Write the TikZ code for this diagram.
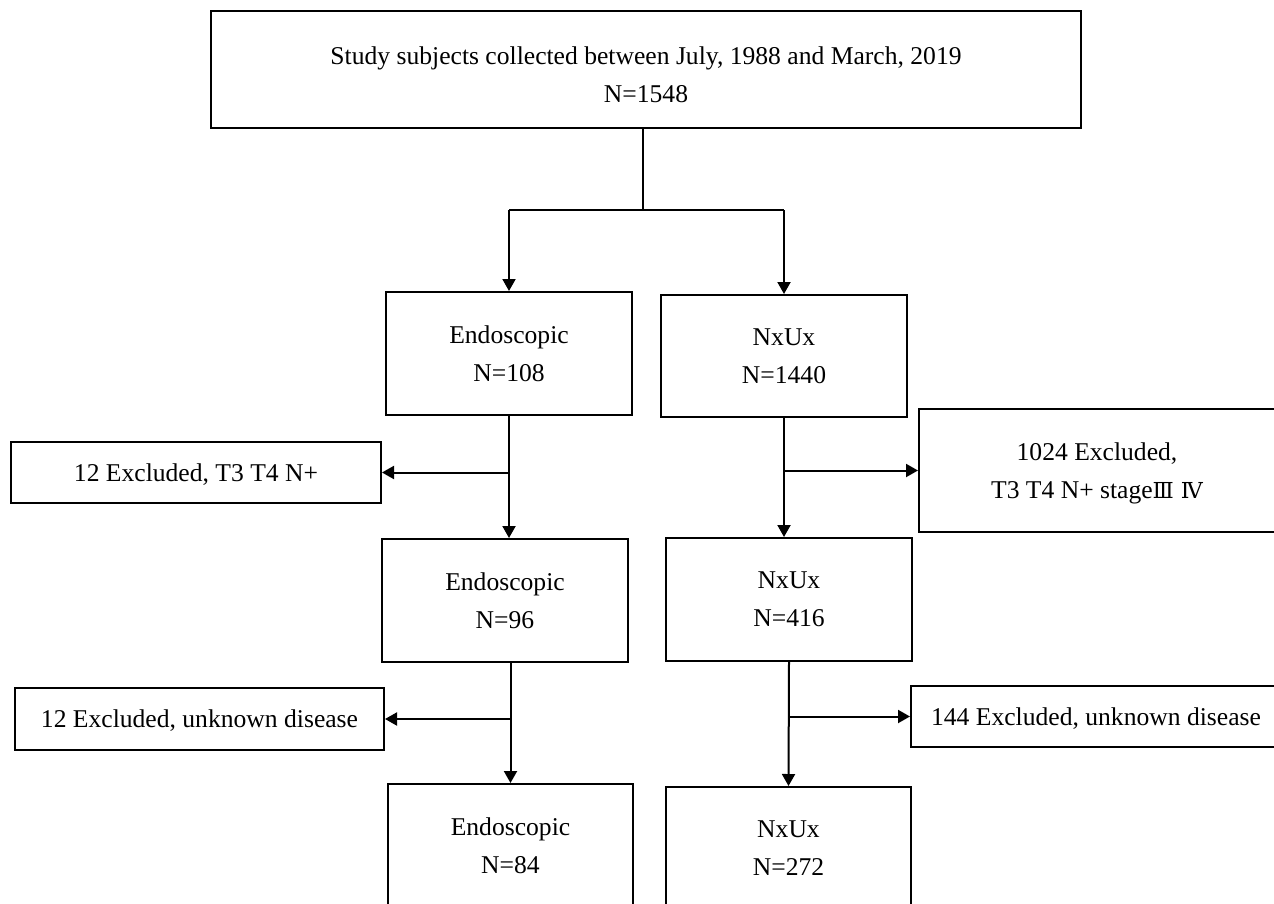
\documentclass[tikz,border=0pt]{standalone}
\usepackage{fontspec}
\setmainfont{Liberation Serif}
\newfontfamily\romanfont{DejaVu Serif}
\usetikzlibrary{arrows.meta}

\begin{document}
\begin{tikzpicture}[x = 0.5pt, y = -0.5pt, line width = 1pt,
        box/.style = {draw, align = center, inner sep = 0pt, text depth = 0pt, font = \fontsize{12.8}{19}\selectfont},
        arr/.style = {-{Triangle[length = 6pt, width = 6.5pt]}}]
                \useasboundingbox (0, 0) rectangle (1274, 904);
                \clip (0, 0) rectangle (1274, 904);
                % boxes
                \node [box, text height = 33pt, minimum width = 435pt, minimum height = 58.5pt] (study) at (646, 69.5) {Study subjects collected between July, 1988 and March, 2019\\N=1548};
                \node [box, minimum width = 123pt, minimum height = 61.5pt] (endo1) at (509, 353.5) {Endoscopic\\N=108};
                \node [box, minimum width = 123pt, minimum height = 61pt] (nxux1) at (784, 356) {NxUx\\N=1440};
                \node [box, minimum width = 185pt, minimum height = 30.5pt] (excl1) at (196, 472.5) {12 Excluded, T3 T4 N+};
                \node [box, minimum width = 178pt, minimum height = 61.5pt] (excl2) at (1097, 470.5) {1024 Excluded,\\T3 T4 N+ stage{\romanfont\fontsize{11}{19}\selectfont Ⅲ Ⅳ}};
                \node [box, minimum width = 123pt, minimum height = 61.5pt] (endo2) at (505, 600.5) {Endoscopic\\N=96};
                \node [box, minimum width = 123pt, minimum height = 61.5pt] (nxux2) at (789, 599.5) {NxUx\\N=416};
                \node [box, minimum width = 184.5pt, minimum height = 31pt] (excl3) at (199.5, 719) {12 Excluded, unknown disease};
                \node [box, minimum width = 185pt, minimum height = 30.5pt] (excl4) at (1096, 716.5) {144 Excluded, unknown disease};
                \node [box, minimum width = 122.5pt, minimum height = 61.5pt] (endo3) at (510.5, 845.5) {Endoscopic\\N=84};
                \node [box, minimum width = 122.5pt, minimum height = 61.5pt] (nxux3) at (788.5, 848.5) {NxUx\\N=272};
                % connectors
                \coordinate (split) at (643, 210);
                \draw (split |- study.south) -- (split);
                \draw (split -| endo1) -- (split -| nxux1);
                \draw [arr] (split -| endo1) -- (endo1.north);
                \draw [arr] (split -| nxux1) -- (nxux1.north);
                \draw [arr] (endo1.south) -- (endo1.south |- endo2.north);
                \draw [arr] (endo1.south |- excl1.east) -- (excl1.east);
                \draw [arr] (nxux1.south) -- (nxux1.south |- nxux2.north);
                \draw [arr] (nxux1.south |- excl2.west) -- (excl2.west);
                \draw [arr] (endo3.north |- endo2.south) -- (endo3.north);
                \draw [arr] (endo3.north |- excl3.east) -- (excl3.east);
                \draw [arr] (nxux2.south) -- (nxux3.north);
                \draw [arr] (nxux2.south |- excl4.west) -- (excl4.west);
\end{tikzpicture}
\end{document}
